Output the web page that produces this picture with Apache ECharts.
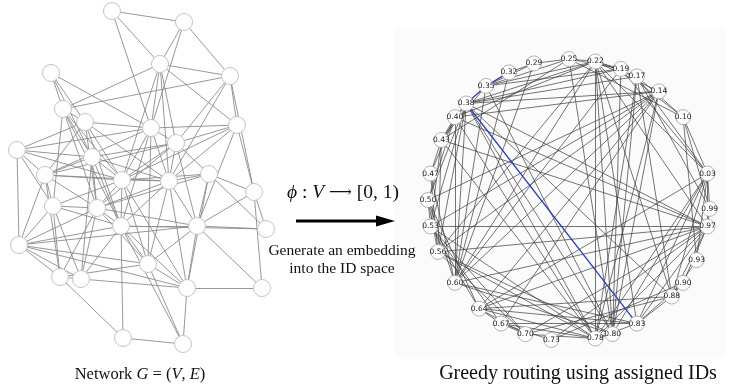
<!DOCTYPE html>
<html>
<head>
<meta charset="utf-8">
<script src="https://cdn.jsdelivr.net/npm/echarts@6/dist/echarts.min.js"></script>
<style>
  html, body { margin: 0; padding: 0; background: #fff; }
  #chart { width: 739px; height: 391px; }
</style>
</head>
<body>
<div id="chart"></div>
<script>
// Node layout of the network G (drawing units of the left panel)
const nodeX = [112, 184, 160, 230, 51, 63, 85, 151, 237, 176, 17, 92, 45, 122, 169, 209, 254, 53, 97, 121, 197, 266, 19, 148, 60, 81, 187, 262, 123, 183];
const nodeY = [11, 22, 64, 76, 73, 109, 122, 128, 125, 143, 150, 157, 175, 180, 181, 174, 192, 206, 208, 226, 226, 229, 245, 264, 277, 279, 288, 288, 338, 344];

// Identifier in [0,1) assigned to every node by the embedding
const nodeIds = [0.32, 0.29, 0.35, 0.25, 0.47, 0.43, 0.40, 0.60, 0.19, 0.80,
                 0.50, 0.56, 0.14, 0.38, 0.22, 0.17, 0.10, 0.53, 0.78, 0.97,
                 0.03, 0.99, 0.64, 0.83, 0.67, 0.70, 0.88, 0.93, 0.73, 0.90];

// Undirected edges (node index pairs)
const edges = [
  [0,1],[0,2],[0,7],
  [1,2],[1,3],[1,7],
  [2,3],[2,5],[2,7],[2,8],[2,9],[2,13],[2,14],
  [3,5],[3,8],[3,9],[3,14],[3,16],
  [4,5],[4,6],[4,7],[4,11],
  [5,6],[5,11],[5,13],[5,17],[5,18],[5,19],
  [6,7],[6,10],[6,12],[6,13],[6,14],[6,18],[6,19],
  [7,8],[7,9],[7,10],[7,12],[7,13],[7,14],[7,19],[7,23],
  [8,9],[8,13],[8,14],[8,16],[8,20],
  [9,11],[9,12],[9,13],[9,14],[9,15],[9,18],[9,20],
  [10,11],[10,12],[10,13],[10,17],[10,22],
  [11,12],[11,13],[11,14],[11,18],[11,19],[11,25],
  [12,13],[12,14],[12,17],[12,18],[12,22],[12,24],
  [13,14],[13,15],[13,17],[13,18],[13,19],[13,23],[13,26],
  [14,15],[14,18],[14,19],[14,20],[14,23],[14,26],
  [15,16],[15,18],[15,20],[15,21],[15,26],
  [16,20],[16,21],[16,27],
  [17,18],[17,19],[17,22],[17,24],[17,25],
  [18,19],[18,20],[18,22],[18,23],[18,24],[18,25],
  [19,20],[19,21],[19,22],[19,23],[19,25],[19,26],[19,28],[19,29],
  [20,21],[20,22],[20,23],[20,26],[20,27],
  [22,23],[22,24],[22,25],[22,26],
  [23,24],[23,26],[23,29],
  [24,25],[24,28],
  [25,26],
  [26,27],[26,29],
  [28,29]
];

// Greedy route followed through the ID space
const route = [[0,2],[2,13],[13,23]];

const routeKey = new Set(route.map(([a, b]) => Math.min(a, b) + '-' + Math.max(a, b)));
const isRoute = ([a, b]) => routeKey.has(Math.min(a, b) + '-' + Math.max(a, b));

const leftNodes = nodeX.map((x, i) => ({ name: 'n' + i, value: [x, nodeY[i]] }));
const leftLinks = edges.map(([a, b]) => ({ source: a, target: b }));

const rightNodes = nodeIds.map((id) => {
  const t = 2 * Math.PI * id;
  return { name: id.toFixed(2), value: [Math.cos(t), Math.sin(t)] };
});
const plainLinks = edges.filter(e => !isRoute(e)).map(([a, b]) => ({ source: a, target: b }));
const routeLinks = edges.filter(isRoute).map(([a, b]) => ({
  source: a, target: b,
  lineStyle: { color: '#2b3fb8', width: 1.3, opacity: 1 }
}));

const serif = 'Liberation Serif';

const chart = echarts.init(document.getElementById('chart'), null, { renderer: 'canvas' });
chart.setOption({
  animation: false,
  backgroundColor: '#ffffff',
  grid: [
    { left: 0, top: 0, width: 280, height: 360 },
    { left: 428, top: 59, width: 282, height: 282 }
  ],
  xAxis: [
    { type: 'value', gridIndex: 0, min: 0, max: 280, show: false },
    { type: 'value', gridIndex: 1, min: -1, max: 1, show: false }
  ],
  yAxis: [
    { type: 'value', gridIndex: 0, min: 0, max: 360, inverse: true, show: false },
    { type: 'value', gridIndex: 1, min: -1, max: 1, show: false }
  ],
  graphic: [
    { type: 'rect', z: -10, shape: { x: 395, y: 28, width: 331, height: 329 },
      style: { fill: '#fbfbfb' } },
    { type: 'text', x: 343, y: 193,
      style: { text: '{i|ϕ} : {i|V} {a|⟶} [0, 1)', fontFamily: serif, fontSize: 19.5, fill: '#111',
        align: 'center', verticalAlign: 'middle',
        rich: {
          i: { fontFamily: serif, fontStyle: 'italic', fontSize: 19.5 },
          a: { fontFamily: 'DejaVu Serif', fontSize: 16 }
        } } },
    { type: 'line', shape: { x1: 296, y1: 221, x2: 380, y2: 221 },
      style: { stroke: '#000', lineWidth: 3 } },
    { type: 'polygon', shape: { points: [[376, 215.5], [395, 221], [376, 226.5]] },
      style: { fill: '#000' } },
    { type: 'text', x: 342, y: 260,
      style: { text: 'Generate an embedding\ninto the ID space', fontFamily: serif, fontSize: 15.5,
        fill: '#111', align: 'center', verticalAlign: 'middle', lineHeight: 18 } },
    { type: 'text', x: 140, y: 375,
      style: { text: 'Network {i|G} = ({i|V}, {i|E})', fontFamily: serif, fontSize: 16.5, fill: '#111',
        align: 'center', verticalAlign: 'middle',
        rich: { i: { fontFamily: serif, fontStyle: 'italic', fontSize: 16.5 } } } },
    { type: 'text', x: 578, y: 374,
      style: { text: 'Greedy routing using assigned IDs', fontFamily: serif, fontSize: 20, fill: '#111',
        align: 'center', verticalAlign: 'middle' } }
  ],
  series: [
    {
      type: 'graph',
      coordinateSystem: 'cartesian2d',
      xAxisIndex: 0, yAxisIndex: 0,
      symbol: 'circle', symbolSize: 17,
      data: leftNodes,
      links: leftLinks,
      itemStyle: { color: '#ffffff', borderColor: '#c4c4c4', borderWidth: 1 },
      lineStyle: { color: '#8c8c8c', width: 0.9, opacity: 1 },
      label: { show: false },
      emphasis: { disabled: true }
    },
    {
      type: 'graph',
      coordinateSystem: 'cartesian2d',
      xAxisIndex: 1, yAxisIndex: 1,
      symbol: 'circle', symbolSize: 15,
      data: rightNodes,
      links: plainLinks.concat(routeLinks),
      itemStyle: { color: '#ffffff', borderColor: '#a0a0a0', borderWidth: 0.8 },
      lineStyle: { color: '#3a3a3a', width: 0.7, opacity: 1 },
      label: { show: true, position: 'inside', formatter: '{b}', fontSize: 7.5,
        color: '#222', fontFamily: 'DejaVu Sans' },
      emphasis: { disabled: true }
    }
  ]
});
</script>
</body>
</html>
